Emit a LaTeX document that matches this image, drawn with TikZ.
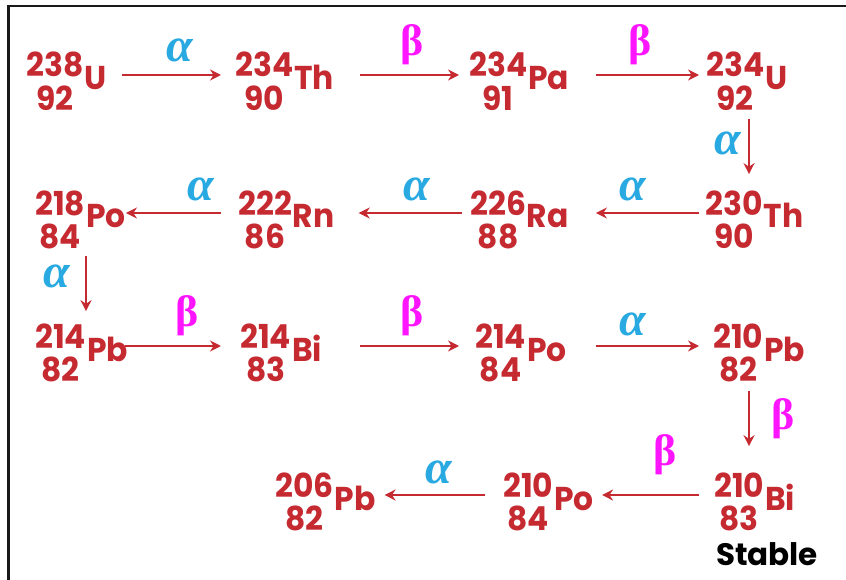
\documentclass[tikz,border=0pt]{standalone}
\usepackage{fontspec}
\setmainfont{Poppins}
\newfontfamily\nucfont{Poppins}[FakeStretch=0.95]
\newfontfamily\grk{Liberation Serif}
\usetikzlibrary{arrows.meta}
\definecolor{decayred}{HTML}{C62A31}
\definecolor{alphablue}{HTML}{29A9E1}
\definecolor{betapink}{HTML}{FF14FF}

\newcommand{\nuc}[3]{\raisebox{0pt}[\height][\dimexpr\depth-9pt\relax]{\begin{tabular}[t]{@{}c@{}}#1\\#2\end{tabular}}\hspace{1pt}\raisebox{-13pt}{#3}}

\tikzset{
  nucl/.style={text=decayred, font=\nucfont\fontsize{33}{30}\selectfont\bfseries, inner sep=0pt, anchor=base west},
  decay/.style={draw=decayred, line width=1.9pt, -{Stealth[length=11pt,width=11pt]}},
  alab/.style={text=alphablue, font=\grk\bfseries\itshape\fontsize{48}{48}\selectfont, inner sep=0pt},
  blab/.style={text=betapink, font=\grk\bfseries\fontsize{44}{44}\selectfont, inner sep=0pt}
}

\begin{document}
\begin{tikzpicture}[x=1pt,y=-1pt]
  \useasboundingbox (0,0) rectangle (846,580);
  \draw[line width=2.4pt,black!90] (8.5,580) -- (8.5,6) -- (846,6);

  \node[nucl] (u238) at (26,77) {\nuc{238}{92}{U}};
  \node[nucl] (th234) at (235,77) {\nuc{234}{90}{Th}};
  \node[nucl] (pa234) at (469,77) {\nuc{234}{91}{Pa}};
  \node[nucl] (u234) at (706,77) {\nuc{234}{92}{U}};
  \draw[decay,shorten <=15pt,shorten >=14pt] ([yshift=2pt]u238.base east) -- ([yshift=2pt]th234.base west);
  \draw[decay,shorten <=26pt,shorten >=10pt] ([yshift=2pt]th234.base east) -- ([yshift=2pt]pa234.base west);
  \draw[decay,shorten <=27pt,shorten >=7pt] ([yshift=2pt]pa234.base east) -- ([yshift=2pt]u234.base west);
  \node[alab] (a1) at (180,50) {α};
  \node[blab] (b1) at (412,45) {β};
  \node[blab] (b2) at (640,45) {β};

  \node[nucl] (th230) at (705,215) {\nuc{230}{90}{Th}};
  \node[nucl] (ra226) at (470,215) {\nuc{226}{88}{Ra}};
  \node[nucl] (rn222) at (238,215) {\nuc{222}{86}{Rn}};
  \node[nucl] (po218) at (35,215) {\nuc{218}{84}{Po}};
  \draw[decay] ([xshift=43pt,yshift=-8pt]u234.south west) -- ([xshift=44pt,yshift=16pt]th230.north west);
  \node[alab] (a2) at (728,143) {α};
  \draw[decay,shorten <=6pt,shorten >=27pt] ([yshift=2pt]th230.base west) -- ([yshift=2pt]ra226.base east);
  \draw[decay,shorten <=8pt,shorten >=24pt] ([yshift=2pt]ra226.base west) -- ([yshift=2pt]rn222.base east);
  \draw[decay,shorten <=17pt] ([yshift=2pt]rn222.base west) -- ([yshift=2pt]po218.base east);
  \node[alab] (a3) at (633,189) {α};
  \node[alab] (a4) at (417,189) {α};
  \node[alab] (a5) at (201,189) {α};

  \node[nucl] (pb214) at (35,348) {\nuc{214}{82}{Pb}};
  \node[nucl] (bi214) at (240,348) {\nuc{214}{83}{Bi}};
  \node[nucl] (po214) at (475,348) {\nuc{214}{84}{Po}};
  \node[nucl] (pb210) at (713,348) {\nuc{210}{82}{Pb}};
  \draw[decay] ([xshift=51pt,yshift=-7pt]po218.south west) -- ([xshift=51pt,yshift=12pt]pb214.north west);
  \node[alab] (a6) at (57,276) {α};
  \draw[decay,shorten <=-3pt,shorten >=19pt] ([yshift=2pt]pb214.base east) -- ([yshift=2pt]bi214.base west);
  \draw[decay,shorten <=38pt,shorten >=16pt] ([yshift=2pt]bi214.base east) -- ([yshift=2pt]po214.base west);
  \draw[decay,shorten <=29pt,shorten >=14pt] ([yshift=2pt]po214.base east) -- ([yshift=2pt]pb210.base west);
  \node[blab] (b3) at (187,316) {β};
  \node[blab] (b4) at (412,316) {β};
  \node[alab] (a7) at (633,324) {α};

  \node[nucl] (bi210) at (714,497) {\nuc{210}{83}{Bi}};
  \node[nucl] (po210) at (503,497) {\nuc{210}{84}{Po}};
  \node[nucl] (pb206) at (275,497) {\nuc{206}{82}{Pb}};
  \draw[decay] ([xshift=36pt,yshift=-9pt]pb210.south west) -- ([xshift=35pt,yshift=26pt]bi210.north west);
  \node[blab] (b5) at (783,419) {β};
  \draw[decay,shorten <=15pt,shorten >=8pt] ([yshift=2pt]bi210.base west) -- ([yshift=2pt]po210.base east);
  \draw[decay,shorten <=18pt,shorten >=9pt] ([yshift=2pt]po210.base west) -- ([yshift=2pt]pb206.base east);
  \node[blab] (b6) at (665,455) {β};
  \node[alab] (a8) at (439,472) {α};

  \node[font=\fontsize{31}{31}\selectfont\bfseries] (stable) at (767,554) {Stable};
\end{tikzpicture}
\end{document}
